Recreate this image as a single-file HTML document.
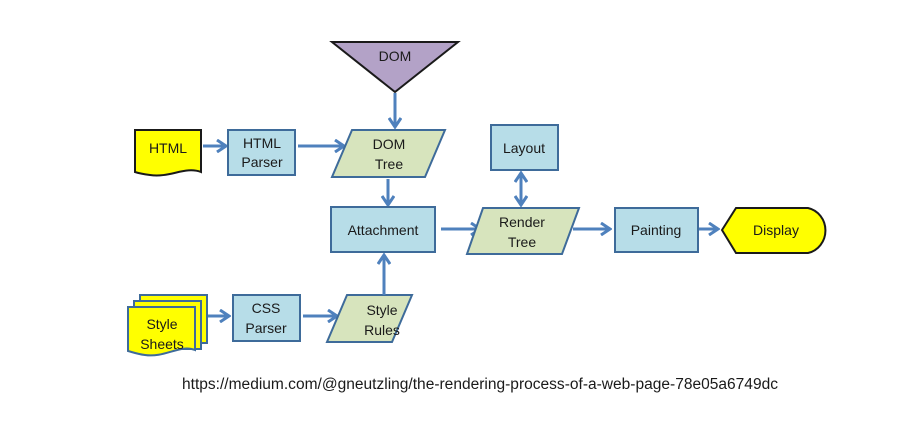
<!DOCTYPE html>
<html><head><meta charset="utf-8"><style>
html,body{margin:0;padding:0;background:#fff;}
svg{display:block;}
text{font-family:"Liberation Sans",sans-serif;font-size:14px;fill:#1a1a1a;text-anchor:middle;}
.b{fill:#b7dde8;stroke:#3e6b9a;stroke-width:2;}
.g{fill:#d7e4bd;stroke:#3e6b9a;stroke-width:2;}
.y{fill:#ffff00;stroke:#1a1a1a;stroke-width:2;}
.a{stroke:#4f81bd;stroke-width:3;fill:none;}
</style></head><body>
<svg width="923" height="426" viewBox="0 0 923 426">
<defs><marker id="m" markerWidth="12" markerHeight="14" refX="9" refY="7" orient="auto-start-reverse" markerUnits="userSpaceOnUse"><path d="M1,1 L10,7 L1,13" fill="none" stroke="#4f81bd" stroke-width="3"/></marker></defs>
<polygon points="332,42 458,42 395,92" fill="#b3a2c7" stroke="#1a1a1a" stroke-width="2"/>
<text x="395" y="61">DOM</text>
<line class="a" x1="395" y1="93" x2="395" y2="126" marker-end="url(#m)"/>
<path class="y" d="M135,130 H201 V172 C185,166 170,178 150,175 C142,174 138,173 135,172 Z"/>
<text x="168" y="153">HTML</text>
<line class="a" x1="203" y1="146" x2="225" y2="146" marker-end="url(#m)"/>
<rect class="b" x="228" y="130" width="67" height="45"/>
<text x="262" y="148">HTML</text><text x="262" y="167">Parser</text>
<line class="a" x1="298" y1="146" x2="343" y2="146" marker-end="url(#m)"/>
<polygon class="g" points="352,130 445,130 425,177 332,177"/>
<text x="389" y="149">DOM</text><text x="389" y="169">Tree</text>
<line class="a" x1="388" y1="179" x2="388" y2="204" marker-end="url(#m)"/>
<rect class="b" x="331" y="207" width="104" height="45"/>
<text x="383" y="235">Attachment</text>
<line class="a" x1="441" y1="229" x2="479" y2="229" marker-end="url(#m)"/>
<polygon class="g" points="483,208 579,208 562,254 467,254"/>
<text x="522" y="227">Render</text><text x="522" y="247">Tree</text>
<rect class="b" x="491" y="125" width="67" height="45"/>
<text x="524" y="153">Layout</text>
<line class="a" x1="521" y1="174" x2="521" y2="204" marker-end="url(#m)" marker-start="url(#m)"/>
<line class="a" x1="573" y1="229" x2="609" y2="229" marker-end="url(#m)"/>
<rect class="b" x="615" y="208" width="83" height="44"/>
<text x="656" y="235">Painting</text>
<line class="a" x1="699" y1="229" x2="717" y2="229" marker-end="url(#m)"/>
<path class="y" d="M722,230 L736,208 H808 A22,23 0 0 1 808,253 H736 Z"/>
<text x="776" y="235">Display</text>
<rect x="140" y="295" width="67" height="48" fill="#ffff00" stroke="#3e6b9a" stroke-width="2"/>
<rect x="134" y="301" width="67" height="48" fill="#ffff00" stroke="#3e6b9a" stroke-width="2"/>
<path d="M128,307 H195 V350 C180,344 165,358 145,355 C137,354 132,352 128,351 Z" fill="#ffff00" stroke="#3e6b9a" stroke-width="2"/>
<text x="162" y="329">Style</text><text x="162" y="349">Sheets</text>
<line class="a" x1="208" y1="316" x2="228" y2="316" marker-end="url(#m)"/>
<rect class="b" x="233" y="295" width="67" height="46"/>
<text x="266" y="313">CSS</text><text x="266" y="333">Parser</text>
<line class="a" x1="303" y1="316" x2="336" y2="316" marker-end="url(#m)"/>
<polygon class="g" points="347,295 412,295 392,342 327,342"/>
<text x="382" y="315">Style</text><text x="382" y="335">Rules</text>
<line class="a" x1="384" y1="295" x2="384" y2="256" marker-end="url(#m)"/>
<text x="480" y="389" style="font-size:15.5px;" textLength="596" lengthAdjust="spacingAndGlyphs">https://medium.com/@gneutzling/the-rendering-process-of-a-web-page-78e05a6749dc</text>
</svg>
</body></html>
